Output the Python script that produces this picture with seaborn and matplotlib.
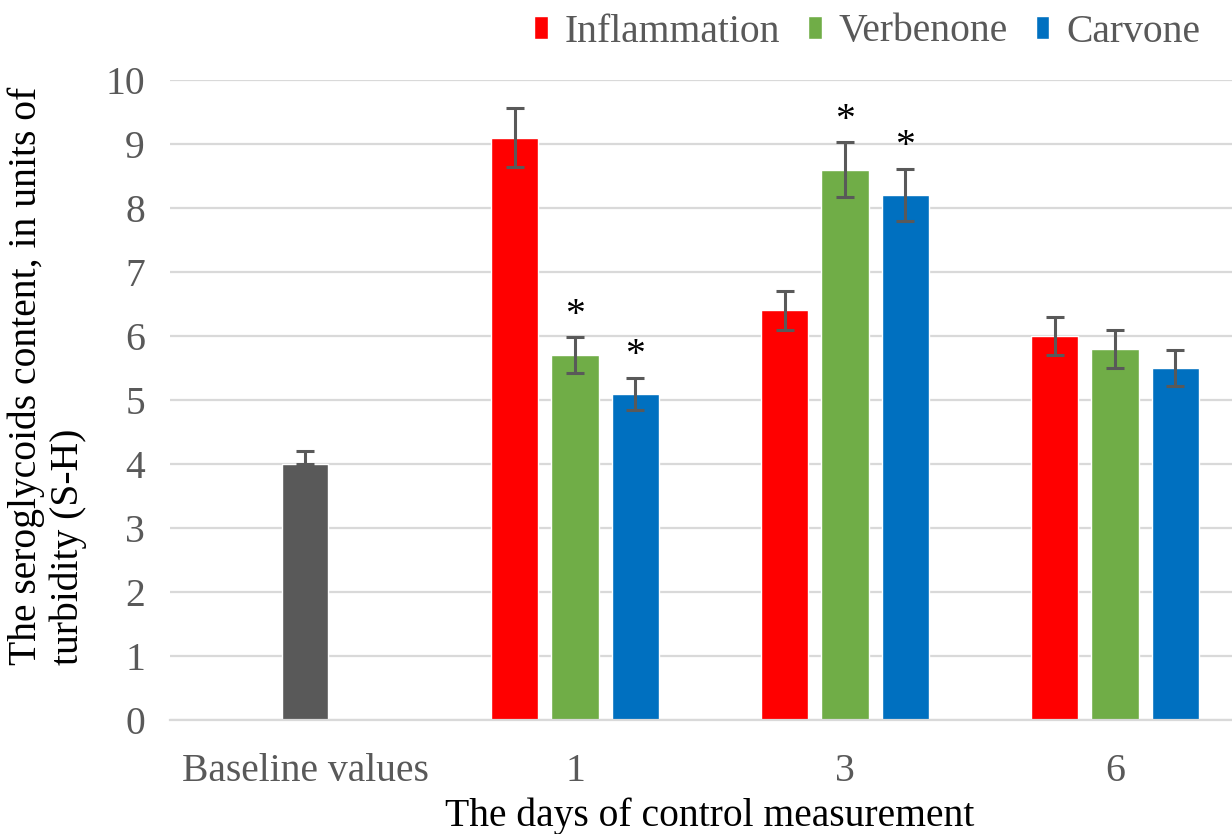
import matplotlib
matplotlib.use("Agg")
import pandas as pd
import matplotlib.pyplot as plt
import seaborn as sns

# ---- data ----
categories = ["Baseline values", "1", "3", "6"]
days = ["1", "3", "6"]
groups = ["Inflammation", "Verbenone", "Carvone"]

baseline_value = 4.0
baseline_err = 0.2

inflammation = [9.1, 6.4, 6.0]
inflammation_err = [0.46, 0.31, 0.30]
verbenone = [5.7, 8.6, 5.8]
verbenone_err = [0.28, 0.43, 0.30]
carvone = [5.1, 8.2, 5.5]
carvone_err = [0.25, 0.41, 0.28]

# significance marks (*) per group, per day
stars = {
    "Inflammation": [False, False, False],
    "Verbenone": [True, True, False],
    "Carvone": [True, True, False],
}

values = {"Inflammation": inflammation, "Verbenone": verbenone, "Carvone": carvone}
errors = {"Inflammation": inflammation_err, "Verbenone": verbenone_err, "Carvone": carvone_err}

rows = []
for g in groups:
    for d, v in zip(days, values[g]):
        rows.append({"day": d, "group": g, "value": v})
df = pd.DataFrame(rows)

colors = {"Inflammation": "#FF0000", "Verbenone": "#70AD47", "Carvone": "#0070C0"}
gray = "#595959"
fs = 28.5

sns.set_theme(style="white")
plt.rcParams["font.family"] = ["Liberation Serif", "DejaVu Serif"]

fig = plt.figure(figsize=(12.32, 8.34), dpi=100)
ax = fig.add_axes([170 / 1232, 1 - 720 / 834, 1080 / 1232, 640 / 834])

# baseline bar
sns.barplot(x=[categories[0]], y=[baseline_value], order=categories, color=gray,
            width=0.174, saturation=1, errorbar=None, ax=ax)
# grouped bars
sns.barplot(data=df, x="day", y="value", hue="group", order=categories, hue_order=groups,
            palette=colors, width=0.667, gap=0.217, saturation=1, errorbar=None, ax=ax)

err_kw = dict(fmt="none", ecolor=gray, elinewidth=2.2, capsize=6.5, capthick=2.2, zorder=4)

# baseline error bar (upper only)
b = ax.containers[0][0]
ax.errorbar([b.get_x() + b.get_width() / 2], [baseline_value],
            yerr=[[0], [baseline_err]], **err_kw)

# group error bars and stars
for i, g in enumerate(groups):
    cont = ax.containers[i + 1]
    xs = [p.get_x() + p.get_width() / 2 for p in cont]
    ax.errorbar(xs, values[g], yerr=errors[g], **err_kw)
    for x, v, e, s in zip(xs, values[g], errors[g], stars[g]):
        if s:
            ax.annotate("*", (x, v + e), xytext=(0, 9), textcoords="offset points",
                        ha="center", va="baseline", fontsize=fs, color="black")

ax.set_xlim(-0.5, 3.5)
ax.set_ylim(0, 10)
ax.set_yticks(range(0, 11))
ax.yaxis.grid(True, color="#D9D9D9", linewidth=1.6)
ax.xaxis.grid(False)
ax.set_axisbelow(True)
for side in ["top", "right", "left"]:
    ax.spines[side].set_visible(False)
ax.spines["bottom"].set_color("#D9D9D9")
ax.spines["bottom"].set_linewidth(1.6)
ax.tick_params(axis="both", length=0, labelsize=fs, labelcolor=gray)
ax.tick_params(axis="y", pad=18)
ax.tick_params(axis="x", pad=24)

ax.set_xlabel("The days of control measurement", fontsize=fs, color="black", labelpad=5)
ax.set_ylabel("")
fig.text(0.006, 1 - 665 / 834, "The seroglycoids content, in units of\nturbidity (S-H)",
         rotation=90, ha="left", va="bottom", multialignment="left",
         fontsize=fs, color="black", linespacing=1.15)

handles, labels = ax.get_legend_handles_labels()
if ax.get_legend() is not None:
    ax.get_legend().remove()
fig.legend(handles[-3:], labels[-3:], loc="center right", bbox_to_anchor=(1200 / 1232, 1 - 32 / 834),
           ncol=3, frameon=False, fontsize=fs, labelcolor=gray, handlelength=0.35,
           handleheight=0.5, handletextpad=0.42, columnspacing=0.7, borderpad=0,
           borderaxespad=0)

fig.savefig("out.png", dpi=100)
